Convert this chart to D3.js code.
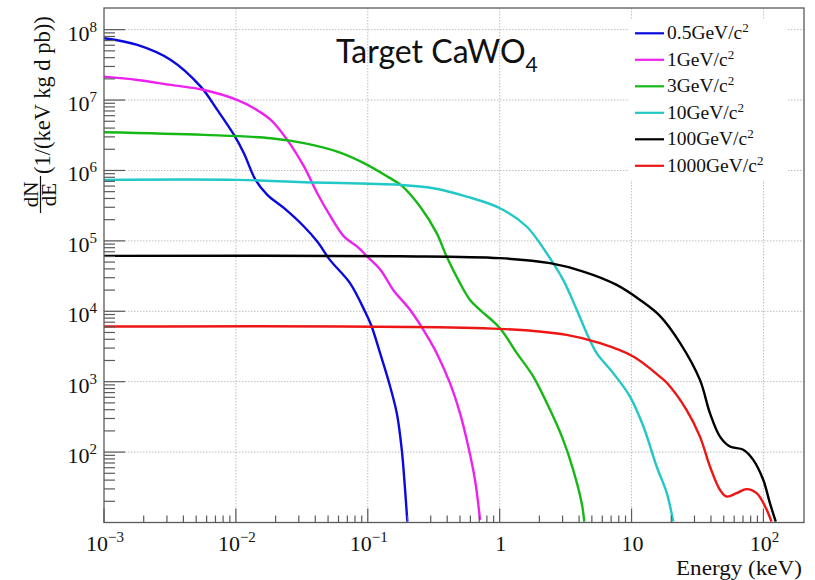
<!DOCTYPE html>
<html><head><meta charset="utf-8">
<script src="https://cdn.jsdelivr.net/npm/d3@7"></script>
<style>body{margin:0;background:#fff} svg{display:block}</style>
</head><body>
<svg id="c" width="815" height="580"></svg>
<script>
// ---- data ----
const seriesNames = ["0.5GeV/c", "1GeV/c", "3GeV/c", "10GeV/c", "100GeV/c", "1000GeV/c"];
const seriesColors = ["#0a0ae0", "#ee22ee", "#16b816", "#22c8c8", "#000000", "#ee1515"];

const energy05 = [0.001, 0.00179, 0.00321, 0.00541, 0.00723, 0.00968, 0.0115, 0.0141, 0.0173, 0.0232, 0.0328, 0.0414, 0.0516, 0.0733, 0.0953, 0.107, 0.124, 0.143, 0.166, 0.181, 0.191, 0.1995];
const rate05   = [7.55e7, 6.07e7, 3.71e7, 1.55e7, 7.24e6, 3.20e6, 1.76e6, 7.35e5, 4.50e5, 2.91e5, 1.60e5, 9.77e4, 5.37e4, 2.51e4, 9900, 6070, 2540, 1060, 357, 108, 32.4, 10.3];

const energy1 = [0.001, 0.00179, 0.00321, 0.00573, 0.0103, 0.0137, 0.0184, 0.0245, 0.0328, 0.0414, 0.0523, 0.0661, 0.0832, 0.0991, 0.125, 0.156, 0.209, 0.264, 0.333, 0.420, 0.500, 0.578, 0.650, 0.710];
const rate1   = [2.15e7, 1.93e7, 1.64e7, 1.39e7, 1.00e7, 7.66e6, 5.22e6, 2.72e6, 1.14e6, 4.75e5, 2.21e5, 1.15e5, 8.30e4, 5.98e4, 3.87e4, 2.01e4, 1.05e4, 5440, 2540, 953, 357, 120, 40.4, 10.9];

const energy3 = [0.001, 0.00573, 0.0184, 0.0328, 0.0587, 0.0935, 0.141, 0.1815, 0.249, 0.333, 0.396, 0.500, 0.596, 0.709, 1.005, 1.35, 1.80, 2.41, 3.03, 3.61, 4.19, 4.38];
const rate3   = [3.49e6, 3.20e6, 2.87e6, 2.44e6, 1.85e6, 1.27e6, 8.18e5, 6.04e5, 3.07e5, 1.29e5, 5.98e4, 2.51e4, 1.45e4, 1.05e4, 5750, 2540, 1180, 398, 149, 56, 18.8, 10.3];

const energy10 = [0.001, 0.0103, 0.0328, 0.175, 0.314, 0.562, 1.005, 1.60, 2.27, 3.03, 3.84, 4.57, 5.44, 7.27, 9.73, 12.3, 15.5, 18.5, 20.7];
const rate10   = [7.35e5, 7.35e5, 6.81e5, 6.24e5, 5.60e5, 4.26e5, 2.91e5, 1.60e5, 6.68e4, 2.79e4, 1.05e4, 4890, 2540, 1320, 615, 231, 62.4, 26.2, 10.3];

const energy100 = [0.001, 0.175, 1.005, 2.41, 4.31, 7.71, 11.6, 16.4, 23.3, 33.0, 39.3, 46.8, 55.7, 70.3, 83.7, 99.6, 112, 124];
const rate100   = [6.12e4, 6.05e4, 5.68e4, 4.82e4, 3.66e4, 2.37e4, 1.45e4, 8610, 3560, 1060, 357, 166, 120, 108, 77.6, 40.4, 18.8, 10.3];

const energy1000 = [0.001, 1.005, 3.22, 5.77, 10.3, 16.4, 18.5, 26.1, 33.0, 39.3, 46.8, 52.5, 62.6, 74.6, 88.8, 103, 115];
const rate1000   = [6070, 5620, 4620, 3520, 2280, 1180, 964, 398, 166, 62.4, 29.1, 23.4, 26.1, 29.8, 26.1, 16.9, 10.3];

const xMajorTicks = [1e-3, 1e-2, 1e-1, 1, 10, 100];
const xTickLabels = [["10", "\u22123"], ["10", "\u22122"], ["10", "\u22121"], ["1", ""], ["10", ""], ["10", "2"]];
const yMajorTicks = [1e2, 1e3, 1e4, 1e5, 1e6, 1e7, 1e8];
const yTickLabels = [["10", "2"], ["10", "3"], ["10", "4"], ["10", "5"], ["10", "6"], ["10", "7"], ["10", "8"]];

const allSeries = [
  [energy05, rate05], [energy1, rate1], [energy3, rate3],
  [energy10, rate10], [energy100, rate100], [energy1000, rate1000]
];

// ---- layout ----
const svg = d3.select("#c");
const P = {left: 104, right: 804, top: 8, bottom: 522.5};
const x = d3.scaleLog().domain([1e-3, 203]).range([P.left, P.right]);
const y = d3.scaleLog().domain([10, 2.03e8]).range([P.bottom, P.top]);
const serif = "'Liberation Serif', 'Times New Roman', serif";
const axisColor = "#5a5a5a";

svg.append("rect").attr("width", 815).attr("height", 580).attr("fill", "#fff");

// minor tick values from scale domains
function minorTicks(scale, lo, hi) {
  const out = [];
  const [d0, d1] = scale.domain();
  for (let n = lo; n <= hi; n++) {
    for (let k = 2; k <= 9; k++) {
      const v = k * Math.pow(10, n);
      if (v > d0 && v < d1 * 0.985) out.push(v);
    }
  }
  return out;
}

// grid
const grid = svg.append("g").attr("stroke", "#bdbdbd").attr("stroke-width", 1).attr("stroke-dasharray", "1.5,1.5");
xMajorTicks.filter(v => v > 1e-3).forEach(v => {
  grid.append("line").attr("x1", x(v)).attr("x2", x(v)).attr("y1", P.top).attr("y2", P.bottom);
});
yMajorTicks.forEach(v => {
  grid.append("line").attr("x1", P.left).attr("x2", P.right).attr("y1", y(v)).attr("y2", y(v));
});

// legend background
const legX = 628, legY = 20;
svg.append("rect").attr("x", legX).attr("y", legY).attr("width", 160).attr("height", 160).attr("fill", "#fff");

// curves
svg.append("clipPath").attr("id", "clip").append("rect")
  .attr("x", P.left).attr("y", P.top).attr("width", P.right - P.left).attr("height", P.bottom - P.top);
const line = d3.line().x(d => x(d[0])).y(d => y(d[1])).curve(d3.curveCatmullRom.alpha(0.5));
const curves = svg.append("g").attr("clip-path", "url(#clip)");
allSeries.forEach((s, i) => {
  const pts = s[0].map((e, j) => [e, s[1][j]]);
  curves.append("path").attr("d", line(pts)).attr("fill", "none")
    .attr("stroke", seriesColors[i]).attr("stroke-width", 2.4).attr("stroke-linejoin", "round");
});

// frame
svg.append("rect").attr("x", P.left).attr("y", P.top).attr("width", P.right - P.left).attr("height", P.bottom - P.top)
  .attr("fill", "none").attr("stroke", axisColor).attr("stroke-width", 1.3);

// ticks
const ticks = svg.append("g").attr("stroke", axisColor).attr("stroke-width", 1.2);
xMajorTicks.forEach(v => ticks.append("line").attr("x1", x(v)).attr("x2", x(v)).attr("y1", P.bottom).attr("y2", P.bottom - 14));
minorTicks(x, -3, 2).forEach(v => ticks.append("line").attr("x1", x(v)).attr("x2", x(v)).attr("y1", P.bottom).attr("y2", P.bottom - 7));
yMajorTicks.forEach(v => ticks.append("line").attr("x1", P.left).attr("x2", P.left + 21).attr("y1", y(v)).attr("y2", y(v)));
minorTicks(y, 1, 8).forEach(v => ticks.append("line").attr("x1", P.left).attr("x2", P.left + 11).attr("y1", y(v)).attr("y2", y(v)));

// tick labels
function label(g, xPos, yPos, parts, anchor) {
  const t = g.append("text").attr("x", xPos).attr("y", yPos).attr("text-anchor", anchor)
    .attr("font-family", serif).attr("font-size", 22).attr("fill", "#111");
  t.append("tspan").text(parts[0]);
  if (parts[1]) t.append("tspan").attr("dy", -9).attr("font-size", 15).text(parts[1]);
}
const lab = svg.append("g");
xMajorTicks.forEach((v, i) => label(lab, x(v) + 1, 551, xTickLabels[i], "middle"));
yMajorTicks.forEach((v, i) => label(lab, 97, y(v) + 11, yTickLabels[i], "end"));

// axis titles
svg.append("text").attr("x", 802).attr("y", 575).attr("text-anchor", "end")
  .attr("font-family", serif).attr("font-size", 21).attr("fill", "#111")
  .attr("textLength", 126).attr("lengthAdjust", "spacingAndGlyphs").text("Energy (keV)");

const yt = svg.append("g").attr("font-family", serif).attr("fill", "#111");
yt.append("text").attr("transform", "translate(38,194.5) rotate(-90)").attr("text-anchor", "middle")
  .attr("font-size", 21).text("dN");
yt.append("line").attr("x1", 40.5).attr("x2", 40.5).attr("y1", 176).attr("y2", 213).attr("stroke", "#111").attr("stroke-width", 1.2);
yt.append("text").attr("transform", "translate(56,194.5) rotate(-90)").attr("text-anchor", "middle")
  .attr("font-size", 21).text("dE");
yt.append("text").attr("transform", "translate(50,174) rotate(-90)").attr("text-anchor", "start")
  .attr("font-size", 22.5).text("(1/(keV kg d pb))");

// in-plot title
const tt = svg.append("text").attr("x", 336).attr("y", 63).attr("font-family", "Lato, 'Open Sans', sans-serif")
  .attr("font-size", 32).attr("fill", "#111");
tt.append("tspan").text("Target CaWO");
tt.append("tspan").attr("dy", 9).attr("font-size", 21).text("4");

// legend
const leg = svg.append("g");
seriesNames.forEach((name, i) => {
  const ry = 33.3 + 26.5 * i;
  leg.append("line").attr("x1", 635).attr("x2", 664).attr("y1", ry).attr("y2", ry)
    .attr("stroke", seriesColors[i]).attr("stroke-width", 2.2);
  const t = leg.append("text").attr("x", 667).attr("y", ry + 6).attr("font-family", serif)
    .attr("font-size", 19.5).attr("fill", "#111");
  t.append("tspan").text(name);
  t.append("tspan").attr("dy", -7).attr("font-size", 13).text("2");
});
</script>
</body></html>
